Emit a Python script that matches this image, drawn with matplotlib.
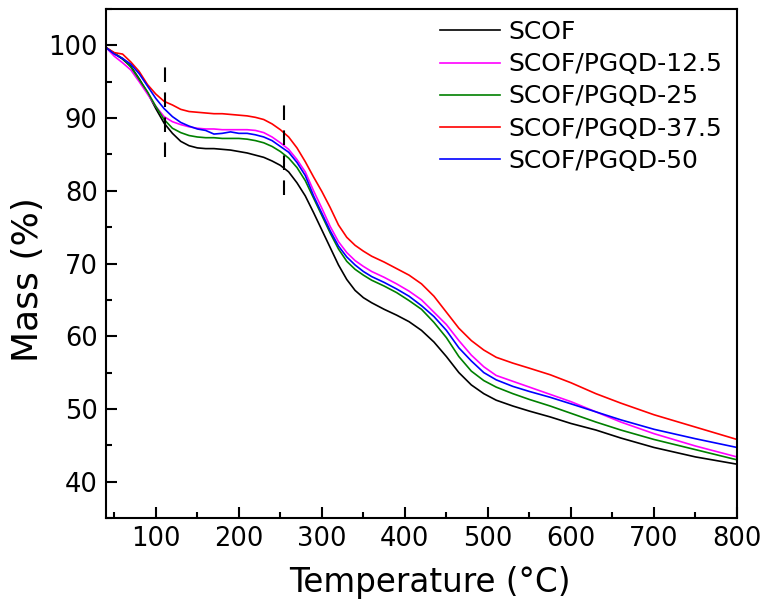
import matplotlib
matplotlib.use("Agg")
import matplotlib.pyplot as plt
from matplotlib.ticker import MultipleLocator

plt.rcParams['font.family'] = ['DejaVu Sans']

temperature = [40, 50, 60, 70, 80, 90, 100, 110, 120, 130, 140, 150, 160, 170, 180, 190,
               200, 210, 220, 230, 240, 250, 260, 270, 280, 290, 300, 310, 320, 330,
               340, 350, 360, 375, 390, 405, 420, 435, 450, 465, 480, 495, 510, 530,
               550, 575, 600, 630, 660, 700, 750, 800]

scof = [99.7, 98.9, 98.1, 97.1, 95.4, 93.5, 91.3, 89.3, 87.9, 86.8, 86.2, 85.9, 85.8, 85.8, 85.7, 85.6,
        85.4, 85.2, 84.9, 84.6, 84.1, 83.5, 82.6, 81.1, 79.3, 77.0, 74.6, 72.2, 69.8, 67.8,
        66.3, 65.3, 64.6, 63.7, 62.9, 62.0, 60.8, 59.2, 57.2, 55.0, 53.3, 52.1, 51.2, 50.4,
        49.7, 48.9, 48.0, 47.1, 46.0, 44.7, 43.4, 42.4]

pgqd_12_5 = [99.7, 98.5, 97.6, 96.6, 95.0, 93.3, 91.6, 90.2, 89.5, 89.1, 88.8, 88.6, 88.5, 88.5, 88.4, 88.4,
             88.4, 88.4, 88.3, 88.0, 87.4, 86.6, 85.7, 84.3, 82.6, 80.0, 77.6, 75.1, 73.0, 71.5,
             70.4, 69.6, 68.9, 68.1, 67.2, 66.2, 65.0, 63.3, 61.6, 59.4, 57.4, 55.8, 54.6, 53.8,
             53.0, 52.0, 51.0, 49.6, 48.2, 46.6, 44.9, 43.4]

pgqd_25 = [99.7, 98.9, 98.2, 97.0, 95.3, 93.6, 91.6, 89.8, 88.6, 88.0, 87.6, 87.4, 87.3, 87.3, 87.2, 87.2,
           87.2, 87.1, 86.9, 86.6, 86.1, 85.4, 84.5, 83.2, 81.4, 79.0, 76.6, 74.2, 72.0, 70.3,
           69.2, 68.4, 67.7, 66.9, 66.0, 64.9, 63.7, 61.9, 59.8, 57.2, 55.2, 53.9, 53.0, 52.1,
           51.3, 50.4, 49.4, 48.2, 47.1, 45.8, 44.4, 43.0]

pgqd_37_5 = [99.7, 99.0, 98.8, 97.7, 96.4, 94.6, 93.3, 92.3, 91.8, 91.2, 90.9, 90.8, 90.7, 90.6, 90.6, 90.5,
             90.4, 90.3, 90.1, 89.8, 89.2, 88.4, 87.4, 85.9, 84.0, 81.9, 79.9, 77.7, 75.3, 73.6,
             72.5, 71.7, 71.0, 70.2, 69.3, 68.4, 67.2, 65.5, 63.3, 61.1, 59.4, 58.1, 57.1, 56.3,
             55.6, 54.7, 53.6, 52.1, 50.8, 49.2, 47.5, 45.8]

pgqd_50 = [99.7, 98.8, 98.2, 97.4, 96.1, 94.4, 92.7, 91.3, 90.2, 89.4, 88.9, 88.5, 88.3, 87.8, 87.9, 88.1,
           87.9, 87.9, 87.7, 87.4, 86.9, 86.1, 85.3, 83.9, 82.1, 79.3, 76.9, 74.5, 72.4, 70.9,
           69.8, 68.9, 68.2, 67.4, 66.5, 65.5, 64.2, 62.7, 60.8, 58.4, 56.6, 55.0, 54.0, 53.1,
           52.4, 51.6, 50.7, 49.6, 48.5, 47.2, 45.9, 44.7]

labels = ["SCOF", "SCOF/PGQD-12.5", "SCOF/PGQD-25", "SCOF/PGQD-37.5", "SCOF/PGQD-50"]
colors = ["#000000", "#FF00FF", "#008000", "#FF0000", "#0000FF"]
series = [scof, pgqd_12_5, pgqd_25, pgqd_37_5, pgqd_50]

marker_lines_x = [111, 254]
marker_lines_y = [(84.7, 97.9), (79.4, 92.7)]

fig = plt.figure(figsize=(7.69, 6.10), dpi=100)
ax = fig.add_axes([106/769, 92/610, 631/769, 509/610])

for y, c, lab in zip(series, colors, labels):
    ax.plot(temperature, y, color=c, lw=1.2, label=lab)

for xv, (y0, y1) in zip(marker_lines_x, marker_lines_y):
    ax.plot([xv, xv], [y0, y1], color='black', lw=1.5, linestyle=(0, (7, 5)))

ax.set_xlim(40, 800)
ax.set_ylim(35, 105)
ax.xaxis.set_major_locator(MultipleLocator(100))
ax.xaxis.set_minor_locator(MultipleLocator(50))
ax.yaxis.set_minor_locator(MultipleLocator(5))
ax.set_yticks([40, 50, 60, 70, 80, 90, 100])
ax.tick_params(which='both', direction='in', top=False, right=False, width=1.5)
ax.tick_params(which='major', length=8, labelsize=18.5, pad=6)
ax.tick_params(which='minor', length=4)
for s in ax.spines.values():
    s.set_linewidth(1.5)

ax.set_xlabel("Temperature (°C)", fontsize=23.5, labelpad=4)
ax.xaxis.set_label_coords(0.513, -0.095)
ax.set_ylabel("Mass (%)", fontsize=26, labelpad=8)
ax.yaxis.set_label_coords(-0.097, 0.468)

ax.legend(loc='upper left', bbox_to_anchor=((440-106)/631, (518-20)/509), frameon=False,
          fontsize=18, handlelength=2.4, handletextpad=0.32, labelspacing=0.33,
          borderpad=0, borderaxespad=0)

fig.savefig("out.png", dpi=100)
